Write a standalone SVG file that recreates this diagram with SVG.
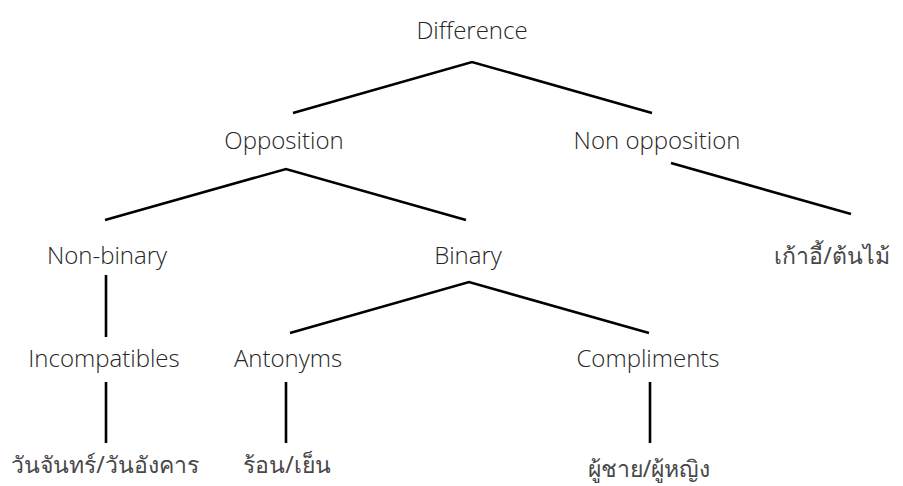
<svg xmlns="http://www.w3.org/2000/svg" width="903" height="486" viewBox="0 0 903 486">
  <style>
    .lbl { font-family: "Open Sans", "Noto Sans", sans-serif; font-size: 24px; font-weight: 300; fill: #262626; text-anchor: middle; }
    .thai { font-family: "Noto Sans", sans-serif; font-size: 23px; font-weight: 400; fill: #484848; text-anchor: middle; }
    .edge { stroke: #000; stroke-width: 2.6; fill: none; stroke-linecap: butt; stroke-linejoin: miter; }
  </style>
  <rect width="903" height="486" fill="#fff"/>

  <!-- connectors of the tree -->
  <g id="connectors">
    <polyline class="edge" points="293,113 472,62 652,113"/>
    <polyline class="edge" points="105,220 286,169 466,220"/>
    <line class="edge" x1="671" y1="163" x2="851" y2="214"/>
    <line class="edge" x1="106" y1="275" x2="106" y2="337"/>
    <polyline class="edge" points="290,333 469,282 649,333"/>
    <line class="edge" x1="106" y1="382" x2="106" y2="443"/>
    <line class="edge" x1="286" y1="382" x2="286" y2="443"/>
    <line class="edge" x1="650" y1="382" x2="650" y2="443"/>
  </g>

  <g id="difference"><text class="lbl" x="472" y="39">Difference</text></g>
  <g id="opposition"><text class="lbl" x="284" y="149">Opposition</text></g>
  <g id="non-opposition"><text class="lbl" x="657" y="149">Non opposition</text></g>
  <g id="non-binary"><text class="lbl" x="107" y="264">Non-binary</text></g>
  <g id="binary"><text class="lbl" x="468" y="264">Binary</text></g>
  <g id="chair-tree"><text class="thai" x="832" y="264">เก้าอี้/ต้นไม้</text></g>
  <g id="incompatibles"><text class="lbl" x="104" y="367">Incompatibles</text></g>
  <g id="antonyms"><text class="lbl" x="288" y="367">Antonyms</text></g>
  <g id="compliments"><text class="lbl" x="648" y="367">Compliments</text></g>
  <g id="monday-tuesday"><text class="thai" x="105" y="473">วันจันทร์/วันอังคาร</text></g>
  <g id="hot-cold"><text class="thai" x="287" y="473">ร้อน/เย็น</text></g>
  <g id="man-woman"><text class="thai" x="649" y="477">ผู้ชาย/ผู้หญิง</text></g>
</svg>
